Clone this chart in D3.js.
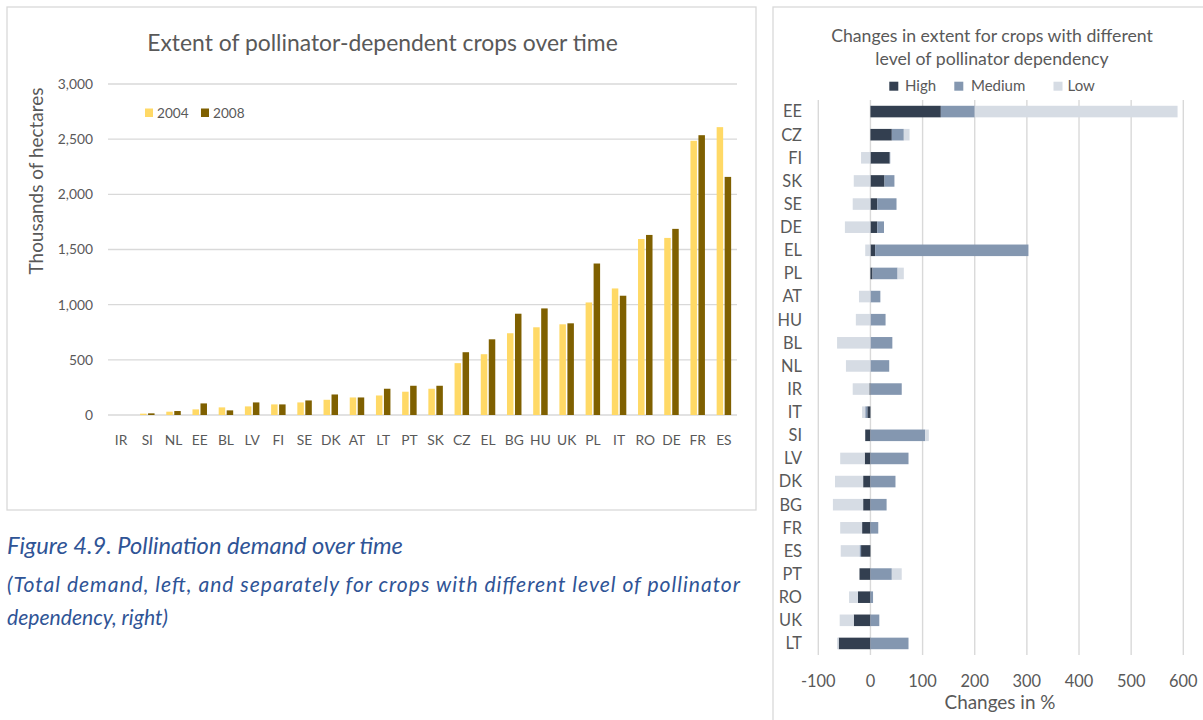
<!DOCTYPE html>
<html><head><meta charset="utf-8">
<script src="https://cdn.jsdelivr.net/npm/d3@7"></script>
<style>
html,body{margin:0;padding:0;background:#fff;}
svg{display:block;font-family:Lato, "Open Sans", sans-serif;}
</style></head>
<body>
<svg id="c" width="1203" height="720"></svg>
<script>
// ---------- data: left chart ----------
const leftCategories = ['IR','SI','NL','EE','BL','LV','FI','SE','DK','AT','LT','PT','SK','CZ','EL','BG','HU','UK','PL','IT','RO','DE','FR','ES'];
const years = ['2004','2008'];
const values2004 = [0,12,30,51,69,78,96,114,138,159,177,211,238,470,551,741,795,822,1020,1147,1595,1605,2485,2609];
const values2008 = [0,15,36,105,42,114,96,132,186,159,238,265,265,569,686,918,966,831,1373,1081,1632,1687,2536,2158];
const leftTicks = [0,500,1000,1500,2000,2500,3000];

// ---------- data: right chart ----------
const rightCategories = ['EE','CZ','FI','SK','SE','DE','EL','PL','AT','HU','BL','NL','IR','IT','SI','LV','DK','BG','FR','ES','PT','RO','UK','LT'];
const levels = ['High','Medium','Low'];
const highValues   = [135,41,37,27,13,13,9,4,0,0,0,0,-2,-6,-10,-11,-14,-14,-16,-18,-21,-24,-32,-61];
const mediumValues = [65,23,1,19,37,13,294,48,19,29,42,36,60,-4,105,73,48,31,15,-3,41,5,17,73];
const lowValues    = [389,11,-18,-32,-34,-49,-10,12,-22,-28,-64,-47,-32,-6,7,-47,-54,-58,-42,-36,19,-17,-27,-3];
const rightTicks = [-100,0,100,200,300,400,500,600];

const svg = d3.select('#c');
const grid = '#d9d9d9', txt = '#595959';

function fit(sel, w){
  const n = sel.node(); const l = n.getComputedTextLength();
  const fs = parseFloat(sel.attr('font-size'));
  sel.attr('font-size', fs * w / l);
}

// ---------- frames ----------
svg.append('rect').attr('x',7).attr('y',7).attr('width',749).attr('height',503)
  .attr('fill','none').attr('stroke',grid).attr('stroke-width',1.3);
svg.append('rect').attr('x',773).attr('y',7).attr('width',460).attr('height',740)
  .attr('fill','none').attr('stroke',grid).attr('stroke-width',1.3);

// ---------- left chart ----------
const L = svg.append('g');
const y = d3.scaleLinear().domain([0,3000]).range([415,84]);
const x0 = d3.scaleBand().domain(leftCategories).range([108,737]).paddingInner(0.447).paddingOuter(0.2235);
const x1 = d3.scaleBand().domain(years).range([0,x0.bandwidth()]).paddingInner(0.1875);
const yearColor = d3.scaleOrdinal().domain(years).range(['#ffd966','#7f6000']);

L.selectAll('line.g').data(leftTicks).join('line')
  .attr('x1',108).attr('x2',737).attr('y1',d=>y(d)).attr('y2',d=>y(d))
  .attr('stroke',grid).attr('stroke-width',1.3);
L.selectAll('text.yt').data(leftTicks).join('text')
  .attr('x',93).attr('y',d=>y(d)).attr('dy','0.36em').attr('text-anchor','end')
  .attr('font-size',13.8).attr('fill',txt).text(d3.format(','));

const rows = leftCategories.map((c,i)=>({c, v:[values2004[i], values2008[i]]}));
const cg = L.selectAll('g.cat').data(rows).join('g').attr('transform',d=>`translate(${x0(d.c)},0)`);
cg.selectAll('rect').data(d=>years.map((yr,k)=>({yr, v:d.v[k]}))).join('rect')
  .attr('x',d=>x1(d.yr)).attr('width',x1.bandwidth())
  .attr('y',d=>y(d.v)).attr('height',d=>y(0)-y(d.v))
  .attr('fill',d=>yearColor(d.yr));

L.selectAll('text.xl').data(leftCategories).join('text')
  .attr('x',d=>x0(d)+x0.bandwidth()/2).attr('y',445).attr('text-anchor','middle')
  .attr('font-size',13.8).attr('fill',txt).text(d=>d);

const lt = L.append('text').attr('x',382.5).attr('y',51).attr('text-anchor','middle')
  .attr('font-size',22).attr('fill',txt).text('Extent of pollinator-dependent crops over time');
fit(lt,471);
const yl = L.append('text').attr('transform','translate(43,181) rotate(-90)').attr('text-anchor','middle')
  .attr('font-size',17).attr('fill',txt).text('Thousands of hectares');
fit(yl,187);

const lg = L.append('g');
[[145,157],[201,213]].forEach(([sx,tx],k)=>{
  lg.append('rect').attr('x',sx).attr('y',108.5).attr('width',8).attr('height',8.5).attr('fill',yearColor(years[k]));
  lg.append('text').attr('x',tx).attr('y',118).attr('font-size',13.6).attr('fill',txt).text(years[k]);
});

// ---------- caption ----------
const capColor = '#2f5496';
const c1 = svg.append('text').attr('x',7).attr('y',554).attr('font-size',20).attr('font-style','italic')
  .attr('fill',capColor).text('Figure 4.9. Pollination demand over time');
fit(c1,396);
const c3 = svg.append('text').attr('x',7).attr('y',625).attr('font-size',18).attr('font-style','italic')
  .attr('fill',capColor).text('dependency, right)');
fit(c3,161);
svg.append('text').attr('x',7).attr('y',592).attr('font-size',c3.attr('font-size')).attr('font-style','italic')
  .attr('fill',capColor).attr('textLength',733).attr('lengthAdjust','spacing')
  .text('(Total demand, left, and separately for crops with different level of pollinator');

// ---------- right chart ----------
const R = svg.append('g');
const xr = d3.scaleLinear().domain([-100,600]).range([818.3,1183.3]);
const yr = d3.scaleBand().domain(rightCategories).range([100,655]).paddingInner(0.5).paddingOuter(0.25);
const levelColor = d3.scaleOrdinal().domain(levels).range(['#333f50','#8497b0','#d6dce4']);

R.selectAll('line.g').data(rightTicks).join('line')
  .attr('x1',d=>xr(d)).attr('x2',d=>xr(d)).attr('y1',100).attr('y2',655)
  .attr('stroke',grid).attr('stroke-width',1.4);
R.selectAll('text.xt').data(rightTicks).join('text')
  .attr('x',d=>xr(d)).attr('y',687).attr('text-anchor','middle')
  .attr('font-size',16.4).attr('fill',txt).text(d=>d);

const rdata = rightCategories.map((c,i)=>({c, High:highValues[i], Medium:mediumValues[i], Low:lowValues[i]}));
const stack = d3.stack().keys(levels).offset(d3.stackOffsetDiverging)(rdata);
R.selectAll('g.s').data(stack).join('g').attr('fill',d=>levelColor(d.key))
  .selectAll('rect').data(d=>d).join('rect')
  .attr('y',d=>yr(d.data.c)).attr('height',yr.bandwidth())
  .attr('x',d=>xr(Math.min(d[0],d[1]))).attr('width',d=>Math.abs(xr(d[1])-xr(d[0])));

R.selectAll('text.yl').data(rightCategories).join('text')
  .attr('x',802).attr('y',d=>yr(d)+yr.bandwidth()/2).attr('dy','0.36em').attr('text-anchor','end')
  .attr('font-size',16.4).attr('fill',txt).text(d=>d);

const t1 = R.append('text').attr('x',992).attr('y',42).attr('text-anchor','middle')
  .attr('font-size',16).attr('fill',txt).text('Changes in extent for crops with different');
fit(t1,322);
R.append('text').attr('x',992).attr('y',65).attr('text-anchor','middle')
  .attr('font-size',t1.attr('font-size')).attr('fill',txt).text('level of pollinator dependency');
const xt = R.append('text').attr('x',1000).attr('y',709).attr('text-anchor','middle')
  .attr('font-size',17).attr('fill',txt).text('Changes in %');
fit(xt,111);

const legPos = [[889.3,905],[954.3,971],[1053.5,1067.5]];
levels.forEach((lv,k)=>{
  R.append('rect').attr('x',legPos[k][0]).attr('y',81.7).attr('width',9).attr('height',9).attr('fill',levelColor(lv));
  R.append('text').attr('x',legPos[k][1]).attr('y',91).attr('font-size',15).attr('fill',txt).text(lv);
});
</script>
</body></html>
